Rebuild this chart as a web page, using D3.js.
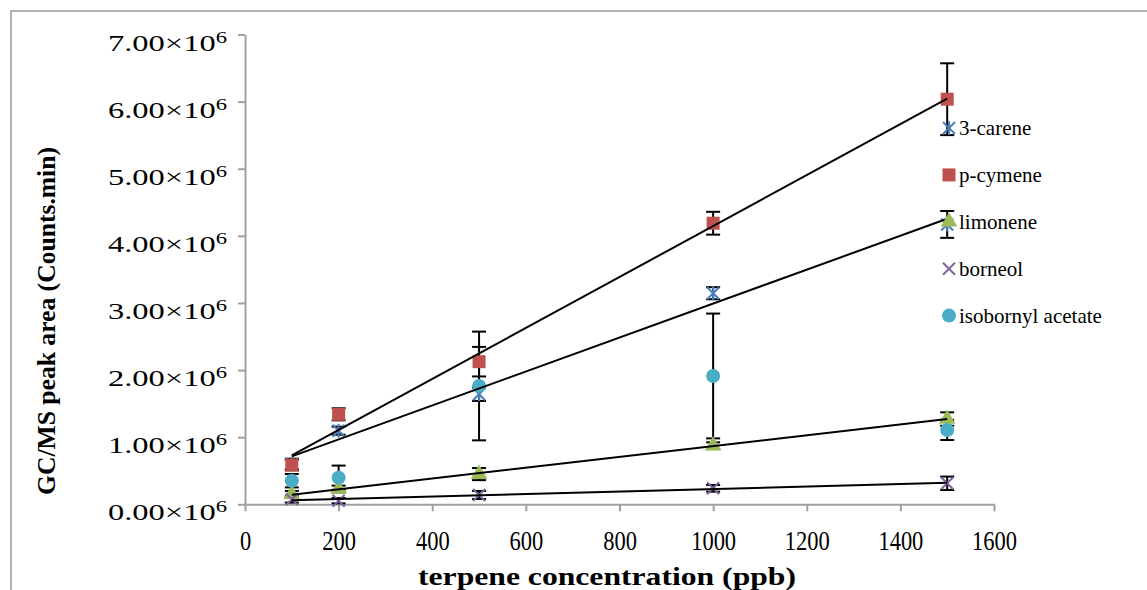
<!DOCTYPE html>
<html>
<head>
<meta charset="utf-8">
<script src="https://cdn.jsdelivr.net/npm/d3@7"></script>
<style>
	body { margin: 0; background: #fff; }
	svg { display: block; }
</style>
</head>
<body>
<svg id="chart" width="1147" height="590"></svg>
<script>
'use strict';

const concentrations = [100, 200, 500, 1000, 1500];
const seriesNames = ['3-carene', 'p-cymene', 'limonene', 'borneol', 'isobornyl acetate'];
const careneValues = [0.60e6, 1.097e6, 1.64e6, 3.145e6, 4.17e6];
const careneErrors = [0.08e6, 0.06e6, 0.10e6, 0.09e6, 0.20e6];
const cymeneValues = [0.586e6, 1.341e6, 2.125e6, 4.188e6, 6.036e6];
const cymeneErrors = [0.08e6, 0.09e6, 0.22e6, 0.17e6, 0.535e6];
const limoneneValues = [0.149e6, 0.228e6, 0.45e6, 0.873e6, 1.27e6];
const limoneneErrors = [0.05e6, 0.05e6, 0.09e6, 0.05e6, 0.10e6];
const borneolValues = [0.075e6, 0.054e6, 0.139e6, 0.238e6, 0.313e6];
const borneolErrors = [0.05e6, 0.04e6, 0.06e6, 0.05e6, 0.10e6];
const isobornylValues = [0.352e6, 0.397e6, 1.763e6, 1.912e6, 1.108e6];
const isobornylErrors = [0.10e6, 0.18e6, 0.81e6, 0.93e6, 0.15e6];
const xTicks = [0, 200, 400, 600, 800, 1000, 1200, 1400, 1600];
const yTicks = [0, 1e6, 2e6, 3e6, 4e6, 5e6, 6e6, 7e6];

const series = [
	{name: seriesNames[0], values: careneValues, errors: careneErrors, marker: 'star', color: '#4a7ebb', trend: true},
	{name: seriesNames[1], values: cymeneValues, errors: cymeneErrors, marker: 'square', color: '#c0504d', trend: true},
	{name: seriesNames[2], values: limoneneValues, errors: limoneneErrors, marker: 'triangle', color: '#9bbb59', trend: true},
	{name: seriesNames[3], values: borneolValues, errors: borneolErrors, marker: 'cross', color: '#8064a2', trend: true},
	{name: seriesNames[4], values: isobornylValues, errors: isobornylErrors, marker: 'circle', color: '#4bacc6', trend: false}
];

const svg = d3.select('#chart');

// outer frame, only top and left edges show
svg.append('rect')
	.attr('x', 11).attr('y', 11)
	.attr('width', 1200).attr('height', 700)
	.style('fill', 'none').style('stroke', '#8c8c8c').style('stroke-width', 1.3);

const x = d3.scaleLinear().domain([0, 1600]).range([245, 994]);
const y = d3.scaleLinear().domain([0, 7e6]).range([504.3, 34.5]);

const axisColor = '#a0a0a0';

const gx = svg.append('g')
	.attr('transform', `translate(0,${y(0)})`)
	.call(d3.axisBottom(x).tickValues(xTicks).tickSize(7).tickSizeOuter(0).tickFormat(d3.format('d')));
gx.select('.domain').style('stroke', axisColor).style('stroke-width', 2);
gx.selectAll('.tick line').style('stroke', axisColor).style('stroke-width', 2);
gx.selectAll('.tick text')
	.attr('y', 46).attr('dy', 0)
	.attr('transform', 'scale(0.9,1.08)')
	.style('font-family', 'Liberation Serif').style('font-size', '25px').style('fill', '#000');
// undo the vertical part of the scale on the label position
gx.selectAll('.tick text').attr('y', 46 / 1.08);

const gy = svg.append('g')
	.attr('transform', `translate(${x(0)},0)`)
	.call(d3.axisLeft(y).tickValues(yTicks).tickSize(7).tickSizeOuter(0).tickFormat(''));
gy.select('.domain').style('stroke', axisColor).style('stroke-width', 2);
gy.selectAll('.tick line').style('stroke', axisColor).style('stroke-width', 2);

const yLabels = svg.append('g');
for (const t of yTicks) {
	const label = yLabels.append('text')
		.attr('x', 108).attr('y', y(t) + 16)
		.attr('textLength', 119).attr('lengthAdjust', 'spacingAndGlyphs')
		.style('font-family', 'Liberation Serif').style('font-size', '23px');
	label.append('tspan').text(`${(t / 1e6).toFixed(2)}×10`);
	label.append('tspan').attr('dy', -8).style('font-size', '16px').text('6');
}

svg.append('text')
	.attr('x', 607).attr('y', 585)
	.attr('text-anchor', 'middle')
	.attr('textLength', 378).attr('lengthAdjust', 'spacingAndGlyphs')
	.style('font-family', 'Liberation Serif').style('font-weight', 'bold').style('font-size', '26px')
	.text('terpene concentration (ppb)');

svg.append('text')
	.attr('transform', 'translate(55,321) rotate(-90)')
	.attr('text-anchor', 'middle')
	.attr('textLength', 348).attr('lengthAdjust', 'spacingAndGlyphs')
	.style('font-family', 'Liberation Serif').style('font-weight', 'bold').style('font-size', '25px')
	.text('GC/MS peak area (Counts.min)');

function drawMarker(g, type, color, cx, cy) {
	if (type === 'square') {
		g.append('rect').attr('x', cx - 6.5).attr('y', cy - 6.5).attr('width', 13).attr('height', 13).style('fill', color);
	} else if (type === 'circle') {
		g.append('circle').attr('cx', cx).attr('cy', cy).attr('r', 7).style('fill', color);
	} else if (type === 'triangle') {
		g.append('path').attr('d', d3.symbol(d3.symbolTriangle, 120)()).attr('transform', `translate(${cx},${cy})`).style('fill', color);
	} else if (type === 'cross') {
		g.append('path').attr('d', `M${cx - 6},${cy - 6}L${cx + 6},${cy + 6}M${cx - 6},${cy + 6}L${cx + 6},${cy - 6}`)
			.style('stroke', color).style('stroke-width', 2).style('fill', 'none');
	} else if (type === 'star') {
		g.append('path').attr('d', `M${cx - 6},${cy - 6}L${cx + 6},${cy + 6}M${cx - 6},${cy + 6}L${cx + 6},${cy - 6}M${cx},${cy - 7}L${cx},${cy + 7}`)
			.style('stroke', color).style('stroke-width', 2).style('fill', 'none');
	}
}

// error bars behind markers
const gErr = svg.append('g').style('stroke', '#000').style('stroke-width', 2);
for (const s of series) {
	concentrations.forEach((c, i) => {
		const top = y(s.values[i] + s.errors[i]);
		const bottom = y(s.values[i] - s.errors[i]);
		gErr.append('line').attr('x1', x(c)).attr('x2', x(c)).attr('y1', top).attr('y2', bottom);
		gErr.append('line').attr('x1', x(c) - 7).attr('x2', x(c) + 7).attr('y1', top).attr('y2', top);
		gErr.append('line').attr('x1', x(c) - 7).attr('x2', x(c) + 7).attr('y1', bottom).attr('y2', bottom);
	});
}

const gMarks = svg.append('g');
for (const s of series) {
	concentrations.forEach((c, i) => drawMarker(gMarks, s.marker, s.color, x(c), y(s.values[i])));
}

// linear trendlines, least squares over the data
const gTrend = svg.append('g');
for (const s of series.filter(s => s.trend)) {
	const mx = d3.mean(concentrations);
	const my = d3.mean(s.values);
	const sxy = d3.sum(concentrations, (c, i) => (c - mx) * (s.values[i] - my));
	const sxx = d3.sum(concentrations, c => (c - mx) * (c - mx));
	const slope = sxy / sxx;
	const intercept = my - slope * mx;
	const ends = d3.extent(concentrations);
	gTrend.append('path')
		.attr('d', d3.line().x(d => x(d)).y(d => y(intercept + slope * d))(ends))
		.style('stroke', '#000').style('stroke-width', 2).style('fill', 'none');
}

const legend = svg.append('g');
series.forEach((s, i) => {
	const ly = 128 + i * 46.9;
	drawMarker(legend, s.marker, s.color, 949, ly);
	legend.append('text')
		.attr('x', 959).attr('y', ly + 7)
		.style('font-family', 'Liberation Serif').style('font-size', '21px')
		.text(s.name);
});
</script>
</body>
</html>
